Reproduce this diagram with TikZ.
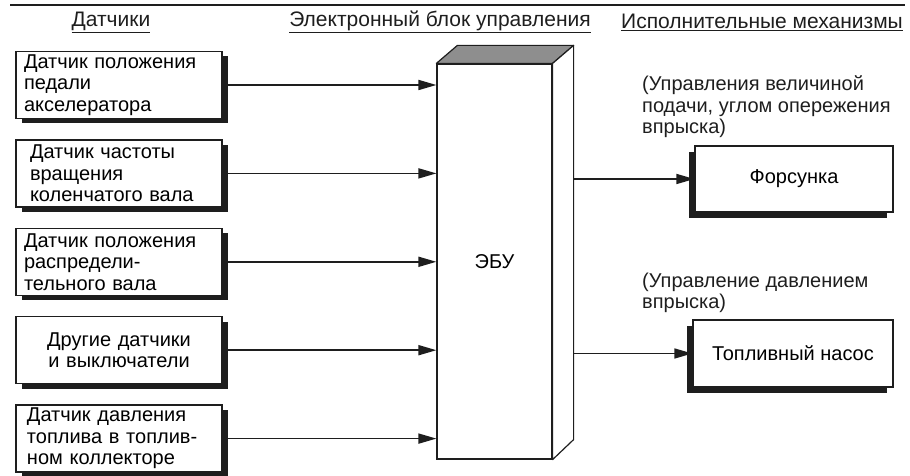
\documentclass[tikz,border=0pt]{standalone}
\usepackage{fontspec}
\setmainfont{Liberation Sans}
\usepackage{tikz}
\usetikzlibrary{arrows.meta,calc,positioning,shadows}
\definecolor{EcuInk}{HTML}{1E1E1E}
\definecolor{EcuTop}{HTML}{8E8E8E}
\tikzset{
  >={Triangle[length=18pt,width=10pt]},
  sensorbox/.style={draw=EcuInk,line width=1.4pt,fill=white,align=left,
    text width=190pt,minimum height=67pt,inner xsep=8pt,inner ysep=2pt,
    general shadow={fill=EcuInk,shadow xshift=6pt,shadow yshift=-5pt}},
  actbox/.style={draw=EcuInk,line width=1.4pt,fill=white,align=center,
    minimum height=66pt,inner sep=2pt,
    general shadow={fill=EcuInk,shadow xshift=-6pt,shadow yshift=-6pt}},
  ecubox/.style={draw=EcuInk,line width=1.2pt,fill=white,minimum width=115pt,
    minimum height=395pt,inner sep=0pt},
  ecuface/.style={draw=EcuInk,line width=1.2pt,line join=round},
  flow/.style={->,line width=1.7pt,draw=EcuInk},
  head/.style={text=EcuInk,inner sep=0pt,font=\fontsize{21}{22}\selectfont},
  note/.style={text=EcuInk,align=left,inner sep=0pt}
}

\begin{document}
\begin{tikzpicture}[x=1pt,y=1pt,node distance=20pt,font=\fontsize{20}{21.5}\selectfont]
  \useasboundingbox (0,0) rectangle (910,476);
  \coordinate (ruleL) at (10,471);
  \coordinate (ruleR) at (905,471);
  \draw[line width=1.2pt,EcuInk] (ruleL) -- (ruleR);

  % column heads
  \node[head] (hsens) at (111,454) {\underline{Датчики}};
  \node[head] (hecu) at (440,454) {\underline{Электронный блок управления}};
  \node[head] (hact) at (762,454) {\underline{Исполнительные механизмы}};

  % sensors
  \node[sensorbox] (s1) at (119,391) {Датчик положения\\педали\\акселератора};
  \node[sensorbox,below=of s1,inner xsep=14pt,text width=178pt] (s2) {Датчик частоты\\вращения\\коленчатого вала};
  \node[sensorbox,below=of s2] (s3) {Датчик положения\\распредели-\\тельного вала};
  \node[sensorbox,below=of s3,align=center] (s4) {Другие датчики\\и выключатели};
  \node[sensorbox,below=of s4,inner xsep=11pt,text width=184pt] (s5) {Датчик давления\\топлива в топлив-\\ном коллекторе};

  % ECU block
  \node[ecubox] (ecu) at (494.5,214.5) {ЭБУ};
  \coordinate (ecuTL) at ($(ecu.north west)+(21,18)$);
  \coordinate (ecuTR) at ($(ecu.north east)+(21,18)$);
  \coordinate (ecuBR) at ($(ecu.south east)+(21,20)$);
  \draw[ecuface,fill=EcuTop] (ecu.north west) -- (ecuTL) -- (ecuTR) -- (ecu.north east) -- cycle;
  \draw[ecuface,fill=white] (ecu.north east) -- (ecuTR) -- (ecuBR) -- (ecu.south east) -- cycle;

  % actuators
  \node[actbox,minimum width=198pt] (inj) at (794,297) {Форсунка};
  \node[actbox,minimum width=200pt,minimum height=67pt] (pump) at (793,122.5) {Топливный насос};
  \node[note,anchor=west] (injnote) at (642,369) {(Управления величиной\\подачи, углом опережения\\впрыска)};
  \node[note,anchor=west] (pumpnote) at (642,183) {(Управление давлением\\впрыска)};

  \draw[flow] (s1.east) -- (s1.east -| ecu.west);
  \draw[flow] (s2.east) -- (s2.east -| ecu.west);
  \draw[flow] (s3.east) -- (s3.east -| ecu.west);
  \draw[flow] (s4.east) -- (s4.east -| ecu.west);
  \draw[flow] (s5.east) -- (s5.east -| ecu.west);
  \draw[flow] (ecuBR |- inj.west) -- (inj.west);
  \draw[flow] (ecuBR |- pump.west) -- (pump.west);
\end{tikzpicture}
\end{document}
